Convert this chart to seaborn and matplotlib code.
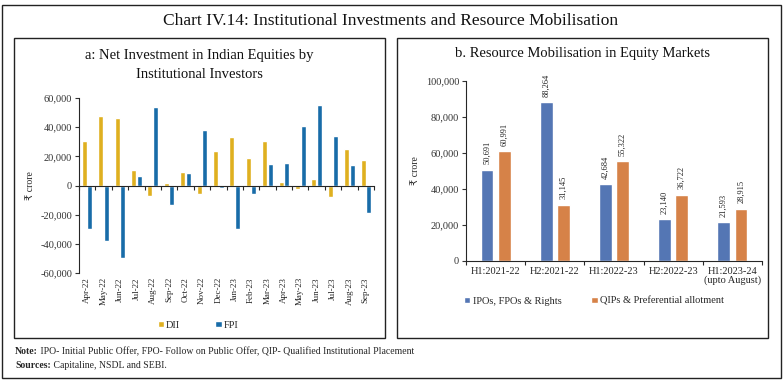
import matplotlib
matplotlib.use("Agg")
import matplotlib.pyplot as plt
from matplotlib.patches import Rectangle
from matplotlib.ticker import FuncFormatter, FixedLocator
import seaborn as sns
import pandas as pd

# ---------------- data ----------------
months = ["Apr-22", "May-22", "Jun-22", "Jul-22", "Aug-22", "Sep-22", "Oct-22", "Nov-22",
          "Dec-22", "Jan-23", "Feb-23", "Mar-23", "Apr-23", "May-23", "Jun-23", "Jul-23",
          "Aug-23", "Sep-23"]
dii = [30500, 47500, 46500, 10500, -7000, 2000, 9000, -6000, 24000, 33500, 19000, 30500,
       2500, -2500, 4500, -8000, 25000, 17500]
fpi = [-29500, -38000, -50000, 6500, 54000, -13500, 8500, 38000, -1500, -30000, -5500, 14500,
       15500, 41000, 55000, 34000, 14000, -19000]

periods = ["H1:2021-22", "H2:2021-22", "H1:2022-23", "H2:2022-23", "H1:2023-24\n(upto August)"]
ipos = [50691, 88264, 42684, 23140, 21593]
qips = [60991, 31145, 55322, 36722, 28915]

series_a = ["DII", "FPI"]
series_b = ["IPOs, FPOs & Rights", "QIPs & Preferential allotment"]

# ---------------- style ----------------
sns.set_theme(style="white")
plt.rcParams["font.family"] = ["Liberation Serif", "DejaVu Sans"]
plt.rcParams["axes.linewidth"] = 0.8

W, H = 783, 384
fig = plt.figure(figsize=(W / 100, H / 100), dpi=100)


def fx(px):
    return px / W


def fy(py):
    return 1 - py / H


def box(x0, y0, x1, y1, lw=1.0):
    fig.add_artist(Rectangle((fx(x0), fy(y1)), fx(x1) - fx(x0), fy(y0) - fy(y1),
                             transform=fig.transFigure, fill=False, edgecolor="#222222",
                             linewidth=lw))


box(1.5, 5, 781, 378)
box(14, 38, 385, 338)
box(397, 38, 768, 338)

fig.text(fx(391), fy(21), "Chart IV.14: Institutional Investments and Resource Mobilisation",
         ha="center", va="center", fontsize=12.5, color="#111111")
fig.text(fx(199.5), fy(55), "a: Net Investment in Indian Equities by", ha="center",
         va="center", fontsize=10.5, color="#111111")
fig.text(fx(199.5), fy(74), "Institutional Investors", ha="center", va="center",
         fontsize=10.5, color="#111111")
fig.text(fx(582.5), fy(53), "b. Resource Mobilisation in Equity Markets", ha="center",
         va="center", fontsize=10.5, color="#111111")

thousands = FuncFormatter(lambda v, p: f"{int(v):,}")

# ---------------- panel a ----------------
df_a = pd.DataFrame({
    "month": months * 2,
    "value": dii + fpi,
    "series": [series_a[0]] * len(months) + [series_a[1]] * len(months),
})
ax1 = fig.add_axes([fx(79), fy(273), fx(374) - fx(79), fy(98) - fy(273)])
sns.barplot(data=df_a, x="month", y="value", hue="series", order=months,
            hue_order=series_a, palette={"DII": "#FFC000", "FPI": "#0070C0"},
            width=0.68, gap=0.1, ax=ax1, legend=True)
ax1.set_ylim(-60000, 60000)
ax1.set_xlim(-0.5, len(months) - 0.5)
ax1.set_yticks(range(-60000, 60001, 20000))
ax1.yaxis.set_major_formatter(thousands)
ax1.spines["top"].set_visible(False)
ax1.spines["right"].set_visible(False)
ax1.spines["bottom"].set_position(("data", 0))
ax1.set_xlabel("")
ax1.set_ylabel("₹ crore", fontsize=7, labelpad=4)
ax1.tick_params(axis="y", labelsize=7.5, length=3, width=0.8, direction="out", left=True,
                pad=2, colors="#333333")
ax1.tick_params(axis="x", which="major", labelsize=6.5, length=0, pad=66, rotation=90,
                bottom=True)
ax1.xaxis.set_minor_locator(FixedLocator([i - 0.5 for i in range(len(months) + 1)]))
ax1.tick_params(axis="x", which="minor", length=3, width=0.8, direction="out", bottom=True)
ax1.legend(loc="center", bbox_to_anchor=(fx(198), fy(325)), bbox_transform=fig.transFigure,
           ncol=2, frameon=False, fontsize=7.5, handlelength=0.6, handleheight=0.6,
           handletextpad=0.2, columnspacing=3.4)

# ---------------- panel b ----------------
df_b = pd.DataFrame({
    "period": periods * 2,
    "value": ipos + qips,
    "series": [series_b[0]] * len(periods) + [series_b[1]] * len(periods),
})
ax2 = fig.add_axes([fx(466), fy(261), fx(762) - fx(466), fy(81) - fy(261)])
sns.barplot(data=df_b, x="period", y="value", hue="series", order=periods,
            hue_order=series_b, palette={series_b[0]: "#4472C4", series_b[1]: "#ED7D31"},
            width=0.58, gap=0.25, ax=ax2, legend=True)
ax2.set_ylim(0, 100000)
ax2.set_xlim(-0.5, len(periods) - 0.5)
ax2.set_yticks(range(0, 100001, 20000))
ax2.yaxis.set_major_formatter(thousands)
ax2.spines["top"].set_visible(False)
ax2.spines["right"].set_visible(False)
ax2.set_xlabel("")
ax2.set_ylabel("₹ crore", fontsize=7, labelpad=4)
ax2.tick_params(axis="y", labelsize=7.5, length=3, width=0.8, direction="out", left=True,
                pad=2, colors="#333333")
ax2.tick_params(axis="x", which="major", labelsize=7.5, length=0, pad=4, bottom=True)
for lab in ax2.get_xticklabels():
    lab.set_linespacing(0.95)
ax2.xaxis.set_minor_locator(FixedLocator([i - 0.5 for i in range(len(periods) + 1)]))
ax2.tick_params(axis="x", which="minor", length=3, width=0.8, direction="out", bottom=True)
for cont, vals in zip(ax2.containers, [ipos, qips]):
    ax2.bar_label(cont, labels=[f"{v:,}" for v in vals], rotation=90, padding=4,
                  fontsize=6, color="#222222")
ax2.legend(loc="center", bbox_to_anchor=(fx(594), fy(301)), bbox_transform=fig.transFigure,
           ncol=2, frameon=False, fontsize=7.5, handlelength=0.6, handleheight=0.6,
           handletextpad=0.2, columnspacing=2.9)

# ---------------- notes ----------------
t1 = fig.text(fx(15), fy(352), "Note:", fontsize=7, fontweight="bold", va="center")
ax1.annotate(" IPO- Initial Public Offer, FPO- Follow on Public Offer, QIP- Qualified "
             "Institutional Placement", xy=(1, 0.5), xycoords=t1, va="center", ha="left",
             fontsize=7, annotation_clip=False)
t2 = fig.text(fx(15), fy(366), "Sources:", fontsize=7, fontweight="bold", va="center")
ax1.annotate(" Capitaline, NSDL and SEBI.", xy=(1, 0.5), xycoords=t2, va="center",
             ha="left", fontsize=7, annotation_clip=False)

fig.savefig("out.png", dpi=100)
